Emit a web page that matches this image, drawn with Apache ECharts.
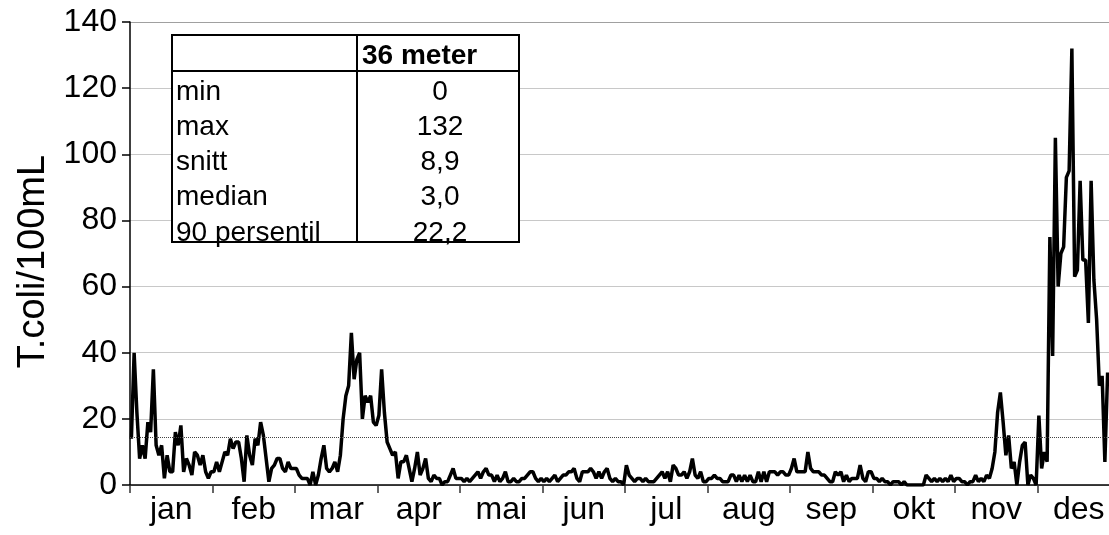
<!DOCTYPE html>
<html>
<head>
<meta charset="utf-8">
<script src="https://cdn.jsdelivr.net/npm/echarts@6/dist/echarts.min.js"></script>
<style>
html,body{margin:0;padding:0;background:#fff;}
#chart{width:1109px;height:535px;}
</style>
</head>
<body>
<div id="chart"></div>
<script>
// Month tick labels
var months = ['jan','feb','mar','apr','mai','jun','jul','aug','sep','okt','nov','des'];
// Daily T.coli values per month segment
var janVals = [14,40,22,8,12,8,19,16,35,12,9,12,2,9,4,4,16,12,18,4,8,6,3,10,9,6,9,4,2,4];
var febVals = [4,7,4,7,10,9,14,11,13,13,8,1,15,9,6,14,12,19,15,8,1,5,6,8,8,5,4,7,5,5];
var marVals = [5,3,2,2,2,0,4,0,3,8,12,5,4,5,7,4,9,20,27,30,46,32,38,40,20,27,25,27,19,18];
var aprVals = [21,35,22,13,11,9,10,2,7,7,9,5,1,5,10,3,5,8,2,1,3,2,2,0,1,1,3,5,2,2];
var maiVals = [2,1,2,1,2,3,4,2,4,5,3,3,1,3,1,2,4,1,1,2,1,1,2,2,3,4,4,2,1,2];
var junVals = [1,2,1,2,3,1,2,3,3,4,4,5,2,1,4,4,4,5,4,2,4,2,4,5,2,1,2,1,1,0];
var julVals = [6,3,2,1,2,2,1,2,1,1,1,2,3,4,2,4,1,6,5,3,3,4,2,4,8,3,2,4,1,1];
var augVals = [2,2,3,2,2,1,1,1,3,3,1,3,1,3,1,3,1,1,4,1,4,1,4,4,4,3,4,4,3,3];
var sepVals = [5,8,4,4,4,4,10,5,4,4,4,3,3,2,1,1,4,3,4,1,3,1,2,2,2,6,2,1,4,4];
var oktVals = [2,2,1,2,1,1,0,1,1,1,0,1,0,0,0,0,0,0,0,3,2,1,2,1,2,1,2,1,3,1];
var novVals = [2,2,1,1,0,1,1,3,1,2,1,3,2,5,10,22,28,19,9,15,5,7,0,7,12,13,0,3,2,0];
var desVals = [21,5,10,7,75,39,105,60,70,72,93,95,132,63,65,92,68,68,49,92,62,50,30,33,7,34];
// Reference (dotted) level
var refLevel = [14.3];
// Inset statistics table
var tableHeader = '36 meter';
var tableLabels = ['min','max','snitt','median','90 persentil'];
var tableValues = ['0','132','8,9','3,0','22,2'];

var allVals = [].concat(janVals,febVals,marVals,aprVals,maiVals,junVals,julVals,augVals,sepVals,oktVals,novVals,desVals);
var seriesData = allVals.map(function(v,i){ return [i + 0.5, v]; });

var chart = echarts.init(document.getElementById('chart'), null, {renderer:'canvas'});
var FONT = 'Liberation Sans, Arial, sans-serif';

var graphics = [];
var tL = 172, tT = 35, tR = 519, tB = 242, tC = 357, tH = 71;
graphics.push({type:'rect', shape:{x:tL, y:tT, width:tR-tL, height:tB-tT}, style:{fill:'#fff', stroke:'#000', lineWidth:2}, z:100});
graphics.push({type:'line', shape:{x1:tL, y1:tH, x2:tR, y2:tH}, style:{stroke:'#000', lineWidth:2}, z:101});
graphics.push({type:'line', shape:{x1:tC, y1:tT, x2:tC, y2:tB}, style:{stroke:'#000', lineWidth:2}, z:101});
graphics.push({type:'text', x:tC+5, y:56, style:{text:tableHeader, font:'bold 28px ' + FONT, fill:'#000', textVerticalAlign:'middle', textAlign:'left'}, z:102});
tableLabels.forEach(function(lab, i){
  var cy = 92 + i*35.2;
  graphics.push({type:'text', x:tL+4, y:cy, style:{text:lab, font:'28px ' + FONT, fill:'#000', textVerticalAlign:'middle', textAlign:'left'}, z:102});
  graphics.push({type:'text', x:440, y:cy, style:{text:tableValues[i], font:'28px ' + FONT, fill:'#000', textVerticalAlign:'middle', textAlign:'center'}, z:102});
});

var option = {
  animation:false,
  backgroundColor:'#fff',
  grid:{left:130, right:-11, top:22, bottom:50, containLabel:false, outerBoundsMode:'none'},
  xAxis:[
    {type:'value', min:0, max:360, show:false},
    {type:'category', data:months, position:'bottom', boundaryGap:true,
     axisLine:{show:true, lineStyle:{color:'#000', width:1.5}},
     axisTick:{show:true, length:8, lineStyle:{color:'#333', width:1.5}},
     axisLabel:{color:'#000', fontSize:32, fontFamily:FONT, margin:9, interval:0},
     splitLine:{show:false}}
  ],
  yAxis:{type:'value', min:0, max:140, interval:20,
    name:'T.coli/100mL', nameLocation:'middle', nameGap:71, nameRotate:90,
    nameTextStyle:{color:'#000', fontSize:38, fontFamily:FONT, padding:[0,16,0,0]},
    axisLine:{show:true, lineStyle:{color:'#000', width:1.5}},
    axisTick:{show:true, length:8, inside:false, lineStyle:{color:'#000', width:1.5}},
    axisLabel:{color:'#000', fontSize:32, fontFamily:FONT, margin:13},
    splitLine:{show:true, lineStyle:{color:['#c8c8c8','#c8c8c8','#c8c8c8','#c8c8c8','#c8c8c8','#c8c8c8','#c8c8c8','#a0a0a0'], width:1}}
  },
  series:[{
    type:'line', xAxisIndex:0, yAxisIndex:0, data:seriesData,
    symbol:'none', smooth:false,
    lineStyle:{color:'#000', width:3.5},
    markLine:{silent:true, symbol:['none','none'], label:{show:false},
      lineStyle:{type:'dotted', color:'#444', width:1},
      data:[{yAxis:refLevel[0]}]}
  }],
  graphic:graphics
};
chart.setOption(option);
</script>
</body>
</html>
